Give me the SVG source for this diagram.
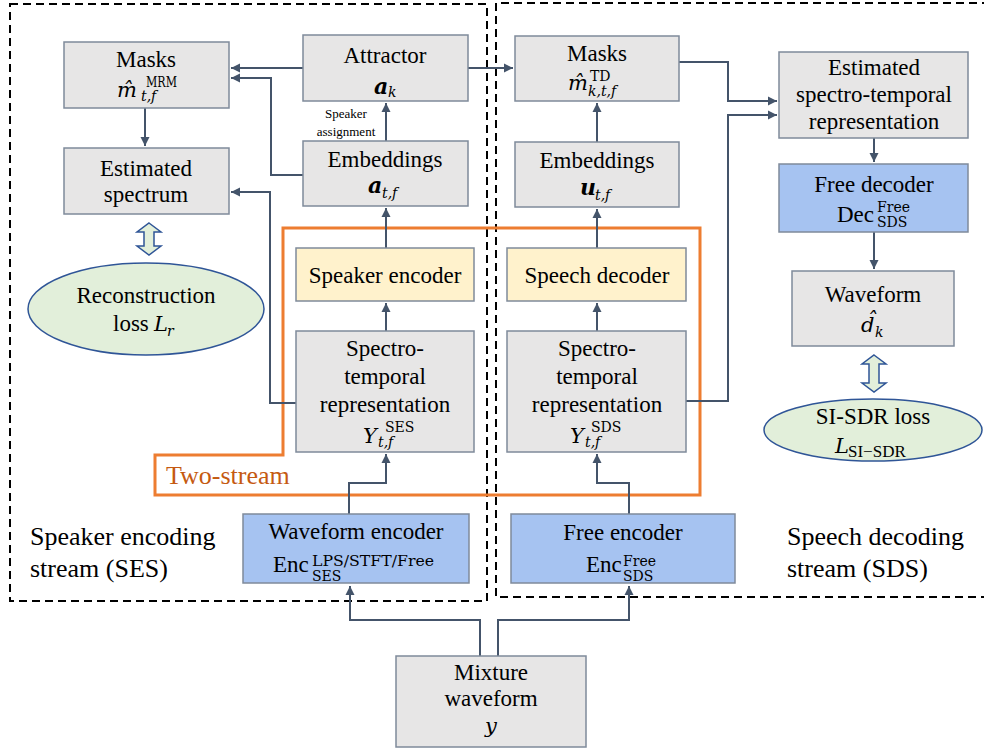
<svg xmlns="http://www.w3.org/2000/svg" width="984" height="748" viewBox="0 0 984 748" font-family="'Liberation Serif', 'Times New Roman', serif">
<defs>
<marker id="ah" markerUnits="userSpaceOnUse" markerWidth="10" markerHeight="10" refX="9" refY="5" orient="auto">
<path d="M0,0.5 L9,5 L0,9.5 Z" fill="#44546A"/>
</marker>
<style>
.t{font-size:23px;text-anchor:middle}
.mi{font-family:"DejaVu Serif",serif;font-style:italic;font-size:21px}
.mb{font-family:"DejaVu Serif",serif;font-style:italic;font-weight:bold;font-size:22px}
.s{font-family:"DejaVu Serif",serif;font-size:14px}
.si{font-family:"DejaVu Serif",serif;font-size:14px;font-style:italic}
.lab{font-size:26px}
.box{fill:#E7E6E6;stroke:#7F8A9A;stroke-width:1.5}
.blue{fill:#A6C3F1;stroke:#7F8A9A;stroke-width:1.5}
.yel{fill:#FFF2CC;stroke:#7F8A9A;stroke-width:1.5}
.ell{fill:#E2EFDA;stroke:#2F5597;stroke-width:1.5}
.con path{fill:none;stroke:#44546A;stroke-width:2}
.dash{fill:none;stroke:#000;stroke-width:2;stroke-dasharray:8,5}
</style>
</defs>
<rect width="984" height="748" fill="#fff"/>
<g id="regions">
<rect class="dash" x="10" y="4" width="477" height="597"/>
<path class="dash" d="M990,3 L496,3 L496,597 L990,597"/>
<path d="M283,228 L700,228 L700,495 L155,495 L155,455 L283,455 Z" fill="none" stroke="#ED7D31" stroke-width="3"/>
<text x="166" y="484" font-size="26" fill="#C55A11">Two-stream</text>
<text class="lab" x="30" y="545">Speaker encoding</text>
<text class="lab" x="30" y="577">stream (SES)</text>
<text class="lab" x="787" y="545">Speech decoding</text>
<text class="lab" x="787" y="577">stream (SDS)</text>
</g>
<g class="con" id="connectors">
<path d="M303,68 L231,68" marker-end="url(#ah)"/>
<path d="M303,175 L271,175 L271,78 L231,78" marker-end="url(#ah)"/>
<path d="M296,403 L270,403 L270,192 L231,192" marker-end="url(#ah)"/>
<path d="M145,108 L145,146" marker-end="url(#ah)"/>
<path d="M468,68 L513,68" marker-end="url(#ah)"/>
<path d="M386,141 L386,103" marker-end="url(#ah)"/>
<path d="M386,248 L386,208" marker-end="url(#ah)"/>
<path d="M386,331 L386,303" marker-end="url(#ah)"/>
<path d="M597,142 L597,103" marker-end="url(#ah)"/>
<path d="M597,248 L597,209" marker-end="url(#ah)"/>
<path d="M597,331 L597,303" marker-end="url(#ah)"/>
<path d="M679,62 L728,62 L728,101 L777,101" marker-end="url(#ah)"/>
<path d="M686,401 L728,401 L728,115 L777,115" marker-end="url(#ah)"/>
<path d="M874,138 L874,162" marker-end="url(#ah)"/>
<path d="M874,232 L874,269" marker-end="url(#ah)"/>
<path d="M349,514 L349,483 L386,483 L386,454" marker-end="url(#ah)"/>
<path d="M629,514 L629,483 L597,483 L597,454" marker-end="url(#ah)"/>
<path d="M480,656 L480,620 L350,620 L350,586" marker-end="url(#ah)"/>
<path d="M498,656 L498,620 L629,620 L629,586" marker-end="url(#ah)"/>
</g>
<g id="masks-mrm">
<rect class="box" x="64" y="42" width="165" height="66"/>
<text class="t" x="146" y="67">Masks</text>
<text class="mi" x="117" y="97">m&#770;</text>
<text class="s" x="146" y="87" textLength="31" lengthAdjust="spacingAndGlyphs">MRM</text>
<text class="si" x="141" y="101">t,f</text>
</g>
<g id="attractor">
<rect class="box" x="303" y="35" width="165" height="66"/>
<text class="t" x="385" y="63">Attractor</text>
<text class="mb" x="374" y="94">a</text>
<text class="si" x="388" y="97">k</text>
</g>
<text x="346" y="118" font-size="13" text-anchor="middle">Speaker</text>
<text x="346" y="136" font-size="13" text-anchor="middle">assignment</text>
<g id="est-spectrum">
<rect class="box" x="64" y="148" width="165" height="66"/>
<text class="t" x="146" y="176">Estimated</text>
<text class="t" x="146" y="202">spectrum</text>
</g>
<g id="embeddings-ses">
<rect class="box" x="303" y="141" width="165" height="65"/>
<text class="t" x="385" y="167">Embeddings</text>
<text class="mb" x="368" y="193">a</text>
<text class="si" x="382" y="198">t,f</text>
</g>
<g id="recon-arrow">
<path d="M149,223 L161,232 L154,232 L154,246 L161,246 L149,255 L137,246 L144,246 L144,232 L137,232 Z" class="ell"/>
</g>
<g id="recon-loss">
<ellipse class="ell" cx="146" cy="309" rx="118" ry="46"/>
<text class="t" x="146" y="303">Reconstruction</text>
<text x="113" y="331" font-size="23">loss</text>
<text class="mi" x="154" y="331">L</text>
<text class="si" x="167" y="336">r</text>
</g>
<g id="speaker-encoder">
<rect class="yel" x="296" y="248" width="178" height="53"/>
<text class="t" x="385" y="283">Speaker encoder</text>
</g>
<g id="spectro-ses">
<rect class="box" x="296" y="331" width="178" height="121"/>
<text class="t" x="385" y="356">Spectro-</text>
<text class="t" x="385" y="384">temporal</text>
<text class="t" x="385" y="412">representation</text>
<text class="mi" x="363" y="443">Y</text>
<text class="s" x="385" y="432">SES</text>
<text class="si" x="378" y="447">t,f</text>
</g>
<g id="waveform-encoder">
<rect class="blue" x="243" y="514" width="226" height="69"/>
<text class="t" x="356" y="539">Waveform encoder</text>
<text x="273" y="572" font-size="23">Enc</text>
<text class="s" x="312" y="566" textLength="122" lengthAdjust="spacingAndGlyphs">LPS/STFT/Free</text>
<text class="s" x="312" y="581">SES</text>
</g>
<g id="masks-td">
<rect class="box" x="515" y="36" width="164" height="65"/>
<text class="t" x="597" y="61">Masks</text>
<text class="mi" x="568" y="90">m&#770;</text>
<text class="s" x="590" y="81">TD</text>
<text class="si" x="588" y="96">k,t,f</text>
</g>
<g id="embeddings-sds">
<rect class="box" x="515" y="142" width="164" height="65"/>
<text class="t" x="597" y="168">Embeddings</text>
<text class="mb" x="580" y="195">u</text>
<text class="si" x="595" y="200">t,f</text>
</g>
<g id="speech-decoder">
<rect class="yel" x="507" y="248" width="179" height="53"/>
<text class="t" x="597" y="283">Speech decoder</text>
</g>
<g id="spectro-sds">
<rect class="box" x="507" y="331" width="179" height="121"/>
<text class="t" x="597" y="356">Spectro-</text>
<text class="t" x="597" y="384">temporal</text>
<text class="t" x="597" y="412">representation</text>
<text class="mi" x="570" y="443">Y</text>
<text class="s" x="591" y="432">SDS</text>
<text class="si" x="585" y="447">t,f</text>
</g>
<g id="free-encoder">
<rect class="blue" x="511" y="514" width="224" height="69"/>
<text class="t" x="623" y="540">Free encoder</text>
<text x="586" y="572" font-size="23">Enc</text>
<text class="s" x="623" y="566">Free</text>
<text class="s" x="623" y="581">SDS</text>
</g>
<g id="est-st-rep">
<rect class="box" x="779" y="52" width="189" height="86"/>
<text class="t" x="874" y="75">Estimated</text>
<text class="t" x="874" y="102">spectro-temporal</text>
<text class="t" x="874" y="129">representation</text>
</g>
<g id="free-decoder">
<rect class="blue" x="779" y="164" width="189" height="68"/>
<text class="t" x="874" y="192">Free decoder</text>
<text x="837" y="222" font-size="23">Dec</text>
<text class="s" x="877" y="212">Free</text>
<text class="s" x="877" y="227">SDS</text>
</g>
<g id="waveform-out">
<rect class="box" x="792" y="271" width="162" height="75"/>
<text class="t" x="873" y="302">Waveform</text>
<text class="mi" x="861" y="332">d&#770;</text>
<text class="si" x="875" y="337">k</text>
</g>
<g id="sisdr-arrow">
<path d="M874,355 L886,364 L879,364 L879,383 L886,383 L874,392 L862,383 L869,383 L869,364 L862,364 Z" class="ell"/>
</g>
<g id="sisdr-loss">
<ellipse class="ell" cx="873" cy="430" rx="109" ry="31"/>
<text class="t" x="873" y="424">SI-SDR loss</text>
<text class="mi" x="835" y="453">L</text>
<text x="848" y="457" font-size="17">SI−SDR</text>
</g>
<g id="mixture">
<rect class="box" x="396" y="656" width="190" height="91"/>
<text class="t" x="491" y="680">Mixture</text>
<text class="t" x="491" y="706">waveform</text>
<text class="mi" x="491" y="733" text-anchor="middle">y</text>
</g>
</svg>
